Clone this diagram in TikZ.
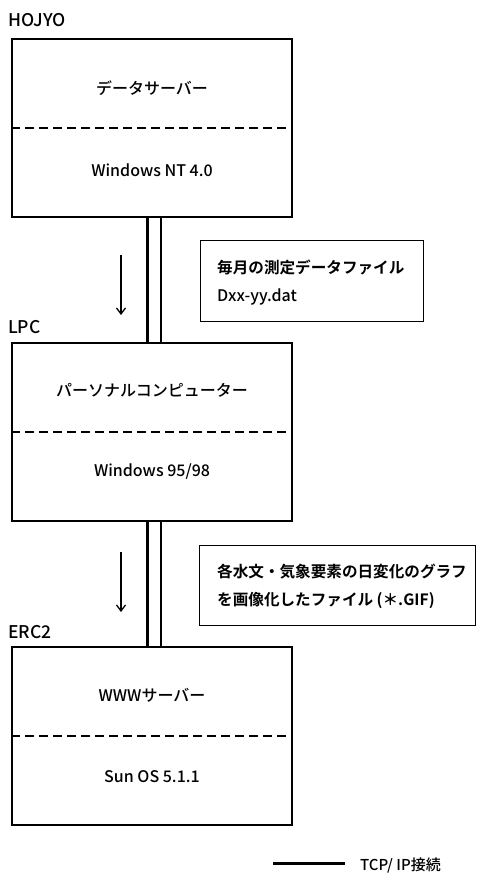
\documentclass[tikz,border=0pt]{standalone}
\usepackage{fontspec}
\setmainfont{Noto Sans CJK JP Medium}[BoldFont=Noto Sans CJK JP Bold]
\usetikzlibrary{arrows.meta}
\begin{document}
\begin{tikzpicture}[x=1pt,y=-1pt,
  sysbox/.style={draw,line width=2pt,minimum width=280pt,minimum height=178pt,inner sep=0pt},
  notebox/.style={draw,line width=1.4pt,inner sep=0pt,anchor=north west},
  sep/.style={dashed,line width=2pt,dash pattern=on 9pt off 5pt},
  tag/.style={anchor=west,font=\fontsize{17.5}{20}\selectfont,inner sep=0pt},
  jp/.style={font=\fontsize{16}{19}\selectfont},
  lat/.style={font=\fontsize{16}{19}\selectfont},
  notetxt/.style={anchor=west,inner sep=0pt,font=\fontsize{15.6}{18}\selectfont\bfseries},
  thickln/.style={line width=3pt},
  thinln/.style={line width=1.5pt},
  flow/.style={line width=1.3pt,-{Straight Barb[length=6pt,width=9pt,line width=1.3pt]}}]
\useasboundingbox (0,0) rectangle (480,876);

% system boxes
\node[sysbox] (b1) at (152,128) {};
\node[sysbox] (b2) at (152,431.5) {};
\node[sysbox] (b3) at (152,735.5) {};
\draw[sep] (b1.west) -- (b1.east);
\draw[sep] (b2.west) -- (b2.east);
\draw[sep] (b3.west) -- (b3.east);

\node[tag] (l1) at (8,20) {HOJYO};
\node[tag] (l2) at (8,327) {LPC};
\node[tag] (l3) at (8,632) {ERC2};

\node[jp] (t1a) at (152,88) {データサーバー};
\node[lat] (t1b) at (152,170) {Windows NT 4.0};
\node[jp] (t2a) at (152,390) {パーソナルコンピューター};
\node[lat] (t2b) at (152,472) {Windows 95/98};
\node[jp] (t3a) at (152,695) {WWWサーバー};
\node[lat] (t3b) at (152,777) {Sun OS 5.1.1};

% connections
\draw[thickln] ([xshift=-5pt]b1.south) -- ([xshift=-5pt]b2.north);
\draw[thinln] ([xshift=9pt]b1.south) -- ([xshift=9pt]b2.north);
\draw[thickln] ([xshift=-5pt]b2.south) -- ([xshift=-5pt]b3.north);
\draw[thinln] ([xshift=9pt]b2.south) -- ([xshift=9pt]b3.north);

% flow arrows
\coordinate (a1s) at (121,255);
\coordinate (a1e) at (121,315);
\coordinate (a2s) at (121,552);
\coordinate (a2e) at (121,612);
\draw[flow] (a1s) -- (a1e);
\draw[flow] (a2s) -- (a2e);

% notes
\node[notebox,minimum width=223pt,minimum height=81pt] (n1) at (200,240) {};
\node[notetxt] (n1a) at (217,267) {毎月の測定データファイル};
\node[notetxt,font=\fontsize{16}{19}\selectfont] (n1b) at (217,297) {Dxx-yy.dat};
\node[notebox,minimum width=276pt,minimum height=80pt] (n2) at (199,545) {};
\node[notetxt] (n2a) at (217,572) {各水文・気象要素の日変化のグラフ};
\node[notetxt] (n2b) at (217,600) {を画像化したファイル (＊.GIF)};

% legend
\coordinate (lg1) at (273,863);
\coordinate (lg2) at (345,863);
\draw[thickln] (lg1) -- (lg2);
\node[anchor=west,inner sep=0pt,font=\fontsize{15}{18}\selectfont] (lgt) at (360,866) {TCP/ IP接続};
\end{tikzpicture}
\end{document}
